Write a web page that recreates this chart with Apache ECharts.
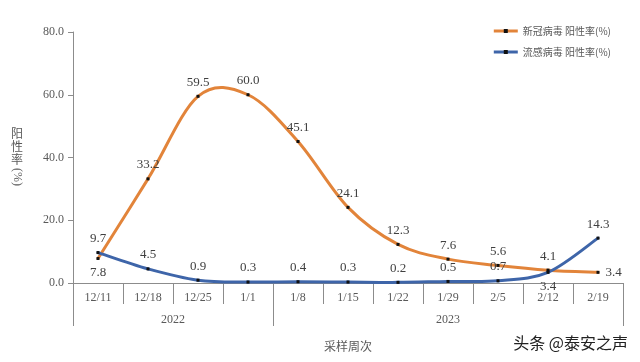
<!DOCTYPE html>
<html><head><meta charset="utf-8">
<script src="https://cdn.jsdelivr.net/npm/echarts@6/dist/echarts.min.js"></script>
<style>html,body{margin:0;padding:0;background:#fff}#c{width:640px;height:362px}</style>
</head><body><div id="c"></div>
<script>
var categories = ['12/11','12/18','12/25','1/1','1/8','1/15','1/22','1/29','2/5','2/12','2/19'];
var covid = [7.8, 33.2, 59.5, 60.0, 45.1, 24.1, 12.3, 7.6, 5.6, 4.1, 3.4];
var flu = [9.7, 4.5, 0.9, 0.3, 0.4, 0.3, 0.2, 0.5, 0.7, 3.4, 14.3];
var yearLabels = ['2022', '2023'];
var yearCenters = [2, 7.5];
var yearBounds = [0, 4, 11];
var yTicks = [0, 20, 40, 60, 80];
var covidName = '新冠病毒 阳性率(%)';
var fluName = '流感病毒 阳性率(%)';

var covidPos = ['bottom','top','top','top','top','top','top','top','top','top','right'];
var fluPos = ['top','top','top','top','top','top','top','top','top','bottom','top'];
var covidColor = '#E2843A';
var fluColor = '#3E65A9';

function mk(vals, pos) {
  return vals.map(function (v, i) { return { value: v, label: { position: pos[i] } }; });
}
function pairs(vals) { return vals.map(function (v, i) { return [i, v]; }); }

function curve(color) {
  return function (params, api) {
    var i = params.dataIndexInside, n = params.dataInsideLength;
    if (i >= n - 1) return null;
    function pt(k) { k = Math.max(0, Math.min(n - 1, k)); return api.coord([api.value(0, k), api.value(1, k)]); }
    var p0 = pt(i - 1), p1 = pt(i), p2 = pt(i + 1), p3 = pt(i + 2);
    return {
      type: 'bezierCurve',
      shape: {
        x1: p1[0], y1: p1[1], x2: p2[0], y2: p2[1],
        cpx1: p1[0] + (p2[0] - p0[0]) / 6, cpy1: p1[1] + (p2[1] - p0[1]) / 6,
        cpx2: p2[0] - (p3[0] - p1[0]) / 6, cpy2: p2[1] - (p3[1] - p1[1]) / 6
      },
      style: { stroke: color, lineWidth: 3, fill: null, lineCap: 'round' }
    };
  };
}

var serif = '"Liberation Serif", "DejaVu Serif", serif';
var cjk = '"Noto Sans CJK SC", sans-serif';
var labelCfg = { show: true, fontSize: 13, color: '#404040', fontFamily: serif, distance: 6,
  formatter: function (p) { return p.value.toFixed(1); } };

var chart = echarts.init(document.getElementById('c'));
chart.setOption({
  animation: false,
  backgroundColor: '#fff',
  grid: { left: 73, right: 17, top: 32, bottom: 79 },
  legend: {
    orient: 'vertical', right: 24, top: 21, itemGap: 11, itemWidth: 24, itemHeight: 5,
    textStyle: { fontSize: 10, color: '#595959', fontFamily: cjk },
    data: [
      { name: covidName, lineStyle: { opacity: 1, color: covidColor, width: 3 } },
      { name: fluName, lineStyle: { opacity: 1, color: fluColor, width: 3 } }
    ]
  },
  xAxis: [{
    type: 'category', data: categories, boundaryGap: true, position: 'bottom',
    axisLine: { lineStyle: { color: '#8c8c8c', width: 1 } },
    axisTick: { show: true, interval: 0, length: 21, lineStyle: { color: '#8c8c8c' } },
    axisLabel: { interval: 0, margin: 9, fontSize: 12, color: '#595959', fontFamily: serif },
    name: '采样周次', nameLocation: 'middle', nameGap: 57,
    nameTextStyle: { fontSize: 12, color: '#595959', fontFamily: cjk }
  }, {
    type: 'value', min: 0, max: 11, position: 'bottom', gridIndex: 0,
    axisLine: { show: false }, splitLine: { show: false },
    axisTick: { show: true, length: 43, customValues: yearBounds, lineStyle: { color: '#8c8c8c' } },
    axisLabel: {
      show: true, customValues: yearCenters, margin: 31, fontSize: 12, color: '#595959', fontFamily: serif,
      formatter: function (v) { return yearLabels[yearCenters.indexOf(v)]; }
    }
  }],
  yAxis: {
    type: 'value', min: yTicks[0], max: yTicks[yTicks.length - 1], interval: 20,
    axisLine: { show: true, lineStyle: { color: '#8c8c8c' } },
    axisTick: { show: true, length: 5, lineStyle: { color: '#8c8c8c' } },
    splitLine: { show: false },
    axisLabel: { margin: 9, fontSize: 12, color: '#595959', fontFamily: serif,
      formatter: function (v) { return v.toFixed(1); } }
  },
  graphic: [
    { type: 'text', left: 11, top: 127, style: { text: '阳\n性\n率', fontSize: 12, lineHeight: 13, fill: '#595959', fontFamily: cjk } },
    { type: 'text', x: 23, y: 168, rotation: -Math.PI / 2, style: { text: '(%)', fontSize: 12, fill: '#595959', fontFamily: serif } },
    { type: 'text', right: 12, top: 335, style: { text: '头条 @泰安之声', fontSize: 16, fill: '#222', fontFamily: cjk } }
  ],
  series: [{
    name: covidName, type: 'line', data: mk(covid, covidPos), z: 4,
    lineStyle: { color: covidColor, width: 3, opacity: 0 }, itemStyle: { color: '#111' }, color: covidColor,
    symbol: 'rect', symbolSize: 3, showSymbol: true, label: labelCfg
  }, {
    name: fluName, type: 'line', data: mk(flu, fluPos), z: 4,
    lineStyle: { color: fluColor, width: 3, opacity: 0 }, itemStyle: { color: '#111' }, color: fluColor,
    symbol: 'rect', symbolSize: 3, showSymbol: true, label: labelCfg
  }, {
    name: covidName, type: 'custom', data: pairs(covid), encode: { x: 0, y: 1 }, z: 2,
    renderItem: curve(covidColor), silent: true
  }, {
    name: fluName, type: 'custom', data: pairs(flu), encode: { x: 0, y: 1 }, z: 3,
    renderItem: curve(fluColor), silent: true
  }]
});
</script></body></html>
